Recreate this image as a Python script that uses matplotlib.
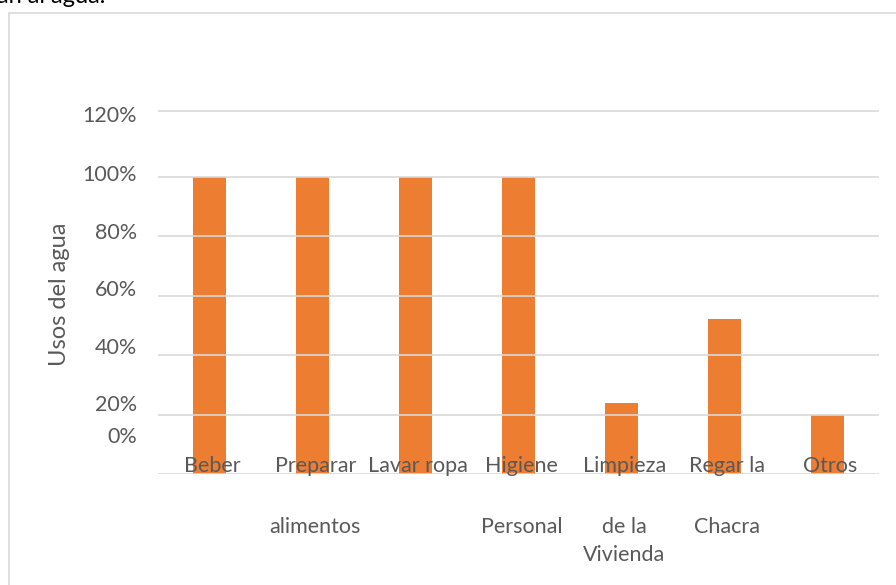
import matplotlib.pyplot as plt
from matplotlib.patches import Rectangle

# Usos del agua (porcentaje de hogares)
categorias = [
    ["Beber"],
    ["Preparar", "alimentos"],
    ["Lavar ropa"],
    ["Higiene", "Personal"],
    ["Limpieza", "de la", "Vivienda"],
    ["Regar la", "Chacra"],
    ["Otros"],
]
valores = [100, 100, 100, 100, 24, 52, 20]

# niveles de las lineas de guia y etiquetas del eje
niveles_guia = [20, 40, 60, 80, 100, 122]
etiquetas_y = ["120%", "100%", "80%", "60%", "40%", "20%", "0%"]
pos_etiquetas_y = [120.3, 100.5, 81, 61.8, 42.4, 23.2, 12.4]

naranja = "#ED7D31"
gris_texto = "#595959"
gris_linea = "#D9D9D9"
fuente = "Lato"

W, H = 896, 585
fig = plt.figure(figsize=(W / 100, H / 100), dpi=100)

# marco del grafico
fig.patches.append(Rectangle((9 / W, -0.1), 1.2, (H - 13) / H + 0.1,
                             transform=fig.transFigure, fill=False,
                             edgecolor=gris_linea, lw=1.2))
fig.text(-3 / W, 1 - 3 / H, "an al agua.", fontsize=17, family=fuente,
         color="black", ha="left", va="baseline")

ymax = 125
px_por_unidad = 2.975
alto = ymax * px_por_unidad
ax = fig.add_axes([158 / W, (H - 474) / H, (879 - 158) / W, alto / H])

x = range(len(valores))
ax.bar(x, valores, width=0.32, color=naranja, zorder=2)
for nivel in niveles_guia:
    ax.axhline(nivel, color=gris_linea, lw=1.2, zorder=3)
ax.axhline(0, color=gris_linea, lw=1.2, zorder=3)

ax.set_xlim(-0.5, len(valores) - 0.5)
ax.set_ylim(0, ymax)
ax.set_xticks([])
ax.set_yticks([])
for s in ax.spines.values():
    s.set_visible(False)

# etiquetas del eje y
for txt, pos in zip(etiquetas_y, pos_etiquetas_y):
    ax.annotate(txt, xy=(0, pos), xycoords=("axes fraction", "data"),
                xytext=(-15, 0), textcoords="offset points",
                ha="right", va="center", fontsize=15.5, family=fuente,
                color=gris_texto)

# etiquetas de categorias
desplaz = [6, -38, -58]
for i, lineas in enumerate(categorias):
    for j, linea in enumerate(lineas):
        ax.annotate(linea, xy=(i, 0), xycoords="data",
                    xytext=(2, desplaz[j]), textcoords="offset points",
                    ha="center", va="center", fontsize=15.5, family=fuente,
                    color=gris_texto, zorder=4)

fig.text(60 / W, 1 - 294 / H, "Usos del agua", rotation=90, fontsize=17,
         family=fuente, color=gris_texto, ha="center", va="center")

fig.savefig("out.png", dpi=100)
